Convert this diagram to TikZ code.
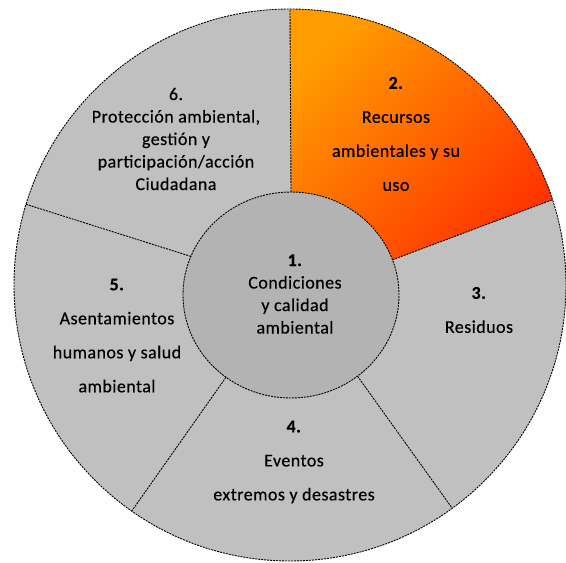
\documentclass[tikz,border=0pt]{standalone}
\usepackage{fontspec}
\setmainfont{Carlito}[LetterSpace=2.5, FakeBold=0.4]
\usetikzlibrary{calc}

\definecolor{ringgray}{RGB}{192,192,192}
\definecolor{coregray}{RGB}{179,179,179}
\definecolor{orangeA}{RGB}{255,156,0}
\definecolor{orangeB}{RGB}{255,52,0}

\tikzset{
  sep/.style={draw=black, line width=0.9pt, dash pattern=on 2pt off 1pt},
  wide/.style={align=center, font=\fontsize{18}{34}\selectfont},
  tight/.style={align=center, font=\fontsize{18}{22.5}\selectfont}
}

\begin{document}
\begin{tikzpicture}[x=1pt,y=1pt]
        \useasboundingbox (0,0) rectangle (566,563);
        \coordinate (c0) at (290,278);
        \coordinate (c1) at (291,268);
        \fill[ringgray] (c0) circle[radius=276pt];
        \shade[top color=orangeA, bottom color=orangeB, shading angle=45] ($(c0)+(90:276pt)$) arc[start angle=90, end angle=18, radius=276pt] -- ($(c1)+(20:108pt and 103pt)$) arc[start angle=20, end angle=90, x radius=108pt, y radius=103pt] -- cycle;
        \fill[coregray] (c1) ellipse[x radius=108pt, y radius=103pt];
        \foreach \a/\b [count=\k] in {90/90,18/20,-54/-52,-125/-127,163/158}{
            \coordinate (o\k) at ($(c0)+(\a:276pt)$);
            \coordinate (i\k) at ($(c1)+(\b:108pt and 103pt)$);
        }
        \draw[sep] (c0) circle[radius=276pt];
        \draw[sep] (c1) ellipse[x radius=108pt, y radius=103pt];
        \foreach \k in {1,...,5} \draw[sep] (i\k) -- (o\k);
        \node[tight] (core) at (295,269) {\textbf{1.}\\Condiciones\\y calidad\\ambiental};
        \node[wide] (recursos) at (396,429) {\textbf{2.}\\Recursos\\ambientales y su\\uso};
        \node[wide] (residuos) at (479,253) {\textbf{3.}\\Residuos};
        \node[wide] (eventos) at (294,101) {\textbf{4.}\\Eventos\\extremos y desastres};
        \node[wide] (asentamientos) at (117,227.5) {\textbf{5.}\\Asentamientos\\humanos y salud\\ambiental};
        \node[tight] (proteccion) at (176,424) {6.\\Protección ambiental,\\gestión y\\participación/acción\\Ciudadana};
    \end{tikzpicture}
\end{document}
